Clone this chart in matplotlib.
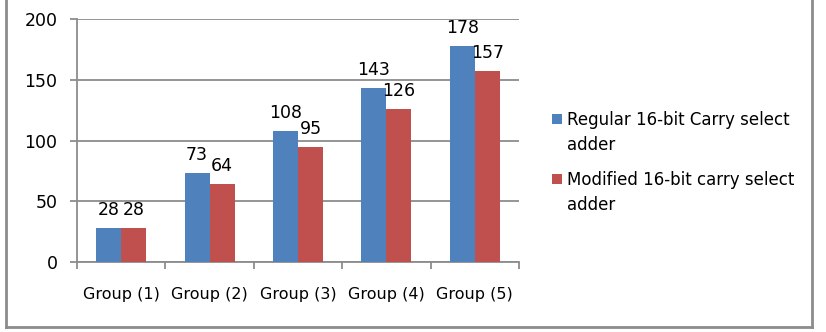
import matplotlib.pyplot as plt
from matplotlib.lines import Line2D
from matplotlib.patches import Rectangle
import numpy as np

# ---- Data ----
groups = ["Group (1)", "Group (2)", "Group (3)", "Group (4)", "Group (5)"]
regular = [28, 73, 108, 143, 178]
modified = [28, 64, 95, 126, 157]
series_names = ["Regular 16-bit Carry select\nadder",
                "Modified 16-bit carry select\nadder"]
yticks = [0, 50, 100, 150, 200]

blue = "#4F81BD"
red = "#C0504D"
grid_c = "#8C8C8C"

fig = plt.figure(figsize=(8.26, 3.32), dpi=100)
ax = fig.add_axes([77 / 826, 1 - 262 / 332, 442 / 826, 243 / 332])

x = np.arange(len(groups))
w = 0.283
ax.bar(x - w / 2, regular, w, color=blue, zorder=3)
ax.bar(x + w / 2, modified, w, color=red, zorder=3)

# ---- Data labels ----
for xi, v in zip(x - w / 2, regular):
    ax.annotate(str(v), (xi, v), xytext=(0, 6.5), textcoords="offset points",
                ha="center", va="bottom", fontsize=12.5, zorder=4)
for xi, v in zip(x + w / 2, modified):
    ax.annotate(str(v), (xi, v), xytext=(0, 6.5), textcoords="offset points",
                ha="center", va="bottom", fontsize=12.5, zorder=4)

# ---- Axes styling ----
ax.set_xlim(-0.5, len(groups) - 0.5)
ax.set_ylim(0, 200)
ax.set_yticks(yticks)
ax.yaxis.grid(True, color=grid_c, linewidth=1.3, zorder=0)
ax.set_xticks(x)
ax.set_xticklabels(groups, fontsize=11.5)
ax.set_xticks(np.arange(len(groups) + 1) - 0.5, minor=True)
ax.tick_params(axis="x", which="major", length=0, pad=18)
ax.tick_params(axis="x", which="minor", length=5, width=1.3, color=grid_c)
ax.tick_params(axis="y", length=5, width=1.3, color=grid_c, pad=9, labelsize=12.5)
for s in ["top", "right"]:
    ax.spines[s].set_visible(False)
for s in ["left", "bottom"]:
    ax.spines[s].set_color(grid_c)
    ax.spines[s].set_linewidth(1.3)

# ---- Legend (drawn by hand for Excel-like spacing) ----
for i, (name, col) in enumerate(zip(series_names, [blue, red])):
    yc = 119 + i * 60
    fig.add_artist(Rectangle((552 / 826, 1 - (yc + 5) / 332), 10 / 826, 10 / 332,
                             transform=fig.transFigure, facecolor=col,
                             edgecolor="none"))
    fig.text(567 / 826, 1 - (yc - 8) / 332, name, ha="left", va="top",
             fontsize=12, linespacing=1.52)

# ---- Outer border (no top edge visible) ----
for xs, ys in [([6, 6], [0, 327]), ([6, 812], [327, 327]), ([812, 812], [0, 327])]:
    fig.add_artist(Line2D([v / 826 for v in xs], [1 - v / 332 for v in ys],
                          color="#8C8C8C", linewidth=2))

plt.savefig("out.png", dpi=100)
plt.close()
